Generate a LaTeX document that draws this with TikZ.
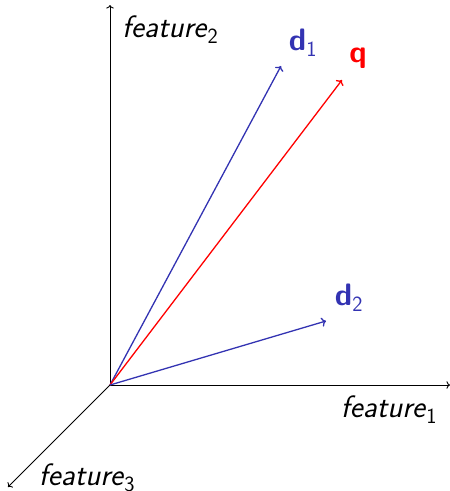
\documentclass[tikz,border=0pt]{standalone}
\usepackage{tikz}
\usepackage{xcolor}
\usetikzlibrary{arrows.meta, positioning, calc}
\definecolor{docblue}{HTML}{3333B2}
\definecolor{qred}{HTML}{FF0000}

\begin{document}
\begin{tikzpicture}[
            x=1pt, y=-1pt,
            axis/.style={->, black, line width=0.9pt},
            vec/.style={->, line width=1.3pt},
            lbl/.style={font=\fontsize{31}{36}\selectfont\sffamily, inner sep=0pt},
            feat/.style={lbl, text=black}
        ]
            \useasboundingbox (0,0) rectangle (450,491);
            % origin and axis ends
            \coordinate (o) at (110,385);
            \coordinate (x1) at (450,385);
            \coordinate (x2) at (110,5);
            \coordinate (x3) at (8,487);
            \draw[axis] (o) -- (x1);
            \draw[axis] (o) -- (x2);
            \draw[axis] (o) -- (x3);
            \node[feat, anchor=center] (f1) at (389,410) {\textit{feature}\textsubscript{1}};
            \node[feat, anchor=west] (f2) at (122,30) {\textit{feature}\textsubscript{2}};
            \node[feat, anchor=center] (f3) at (87,478) {\textit{feature}\textsubscript{3}};
            % document and query vectors
            \coordinate (d1) at (281,66);
            \coordinate (q) at (342,80);
            \coordinate (d2) at (326,321);
            \draw[vec, docblue] (o) -- (d1);
            \draw[vec, qred] (o) -- (q);
            \draw[vec, docblue] (o) -- (d2);
            \node[lbl, text=docblue] (ld1) at (303,43) {\textbf{d}\textsubscript{1}};
            \node[lbl, text=qred] (lq) at (358,58) {\textbf{q}};
            \node[lbl, text=docblue] (ld2) at (349,298) {\textbf{d}\textsubscript{2}};
        \end{tikzpicture}
\end{document}
